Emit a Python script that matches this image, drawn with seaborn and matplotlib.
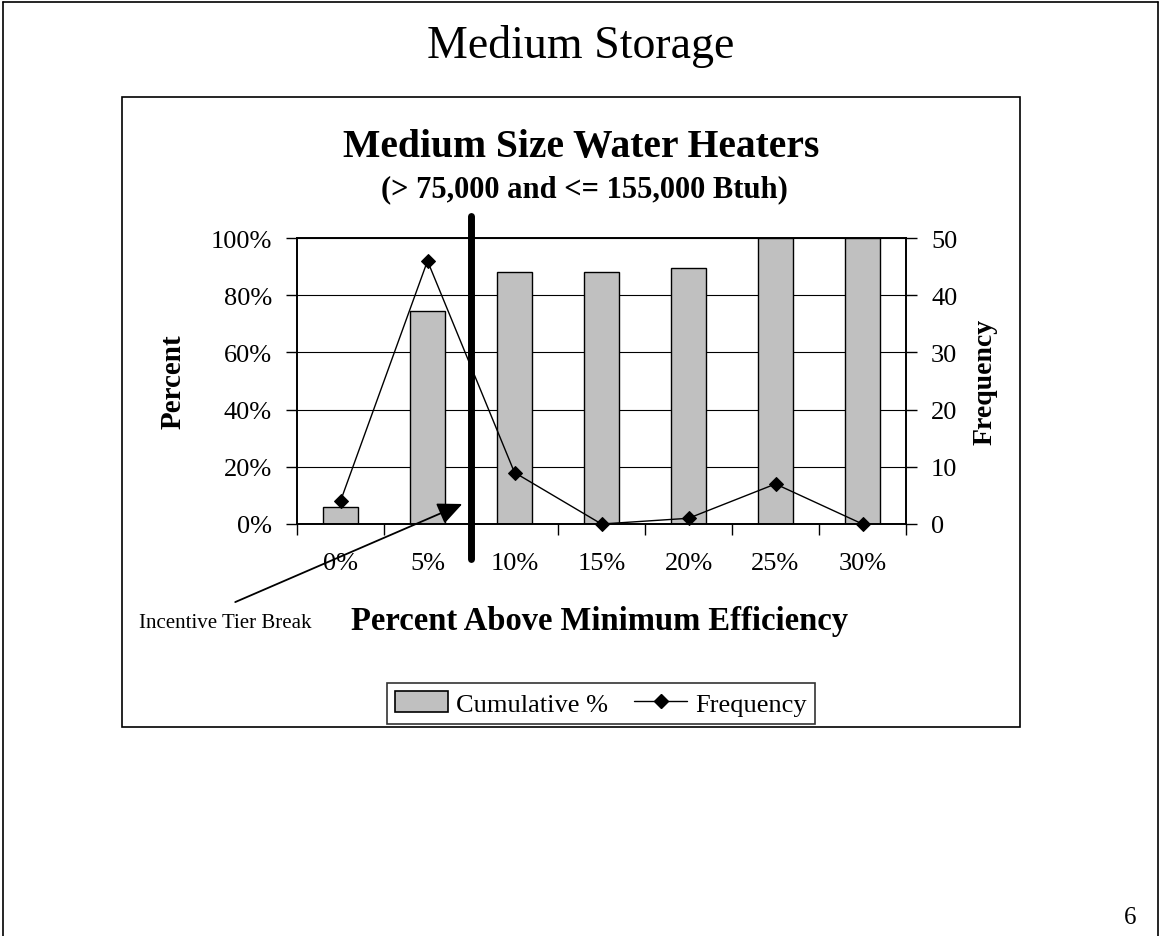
import matplotlib
matplotlib.use("Agg")
import matplotlib.pyplot as plt
from matplotlib.patches import Patch
from matplotlib.lines import Line2D
import seaborn as sns
import pandas as pd

# Efficiency bins and measured counts
categories = ["0%", "5%", "10%", "15%", "20%", "25%", "30%"]
frequency = [4, 46, 9, 0, 1, 7, 0]
cumulative_pct = [6.0, 74.6, 88.1, 88.1, 89.6, 100.0, 100.0]
pct_ticks = [0, 20, 40, 60, 80, 100]
freq_ticks = [0, 10, 20, 30, 40, 50]
tier_break = 1.5  # boundary between the 5% and 10% bins

df = pd.DataFrame({"bin": categories, "cum": cumulative_pct, "freq": frequency})

sns.set_theme(style="white")
plt.rcParams["font.family"] = ["Liberation Serif", "DejaVu Serif"]
plt.rcParams["axes.edgecolor"] = "black"
plt.rcParams["axes.labelcolor"] = "black"
plt.rcParams["xtick.color"] = "black"
plt.rcParams["ytick.color"] = "black"
plt.rcParams["text.color"] = "black"

W, H = 1162, 937
fig = plt.figure(figsize=(W / 100, H / 100), dpi=100)
fig.patch.set_facecolor("white")

# slide frame and chart frame
fig.add_artist(Line2D([3 / W, 3 / W], [0, 1 - 3 / H], color="black", lw=1.2))
fig.add_artist(Line2D([3 / W, 1158 / W], [1 - 3 / H, 1 - 3 / H], color="black", lw=1.2))
fig.add_artist(Line2D([1158 / W, 1158 / W], [0, 1 - 3 / H], color="black", lw=1.2))
fig.add_artist(plt.Rectangle((122 / W, 1 - 728 / H), (1020 - 122) / W, (728 - 98) / H,
                             fill=False, edgecolor="black", lw=1.2, transform=fig.transFigure))

left, right, top, bottom = 297, 906, 239, 525
ax = fig.add_axes([left / W, 1 - bottom / H, (right - left) / W, (bottom - top) / H])

sns.barplot(data=df, x="bin", y="cum", ax=ax, color="#C0C0C0", saturation=1,
            edgecolor="black", linewidth=1.0, width=0.4)
ax.set_ylim(0, 100)
ax.set_yticks(pct_ticks)
ax.set_yticklabels([f"{t}%" for t in pct_ticks])
ax.set_axisbelow(True)
ax.yaxis.grid(True, color="black", linewidth=0.8)
ax.xaxis.grid(False)

ax2 = ax.twinx()
sns.pointplot(data=df, x="bin", y="freq", ax=ax2, color="black", markers="D",
              errorbar=None, markersize=7, linewidth=1.0)
for ln in ax2.lines:
    ln.set_clip_on(False)
ax2.set_ylim(0, 50)
ax2.set_yticks(freq_ticks)
ax2.grid(False)

ax.set_xlim(-0.5, len(categories) - 0.5)
ax.set_xticks(range(len(categories)))
ax.set_xticklabels(categories)
ax.set_xticks([i - 0.5 for i in range(len(categories) + 1)], minor=True)

for a in (ax, ax2):
    for s in a.spines.values():
        s.set_color("black")
        s.set_linewidth(1.2)

ax.tick_params(axis="x", which="major", length=0, pad=20, labelsize=19)
ax.tick_params(axis="x", which="minor", length=8, width=1.0, direction="out", bottom=True)
ax.tick_params(axis="y", which="major", length=8, width=1.0, direction="out", left=True,
               pad=10, labelsize=19)
ax2.tick_params(axis="y", which="major", length=8, width=1.0, direction="out", right=True,
                pad=10, labelsize=19)
ax2.tick_params(axis="x", which="both", length=0)

ax.set_xlabel("Percent Above Minimum Efficiency", fontsize=23.5, fontweight="bold")
ax.xaxis.set_label_coords((600 - left) / (right - left), -(622 - bottom) / (bottom - top))
ax.xaxis.label.set_verticalalignment("center")

ax.set_ylabel("Percent", fontsize=21, fontweight="bold")
ax.yaxis.set_label_coords((173 - left) / (right - left), 0.5)
ax.yaxis.label.set_verticalalignment("center")

ax2.set_ylabel("Frequency", fontsize=20, fontweight="bold", rotation=90)
ax2.yaxis.set_label_coords((985 - left) / (right - left), 0.5)
ax2.yaxis.label.set_verticalalignment("center")

# incentive tier break marker
ax2.plot([tier_break, tier_break], [-0.122, 1.077], transform=ax2.get_xaxis_transform(),
         color="black", lw=5, solid_capstyle="round", clip_on=False, zorder=6)

ax.annotate("", xy=(1.40, 7.0), xytext=(-1.21, -27.3), xycoords="data", textcoords="data",
            annotation_clip=False,
            arrowprops=dict(arrowstyle="-|>,head_length=1.0,head_width=0.45", mutation_scale=15,
                            color="black", lw=1.3, shrinkA=0, shrinkB=0))
fig.text(225 / W, 1 - 623 / H, "Incentive Tier Break", fontsize=15, ha="center", va="center")

fig.text(581 / W, 1 - 47 / H, "Medium Storage", fontsize=33, ha="center", va="center")
fig.text(581 / W, 1 - 147 / H, "Medium Size Water Heaters", fontsize=28.5, fontweight="bold",
         ha="center", va="center")
fig.text(584 / W, 1 - 190 / H, "(> 75,000 and <= 155,000 Btuh)", fontsize=22,
         fontweight="bold", ha="center", va="center")
fig.text(1130 / W, 1 - 918 / H, "6", fontsize=18, ha="center", va="center")

handles = [Patch(facecolor="#C0C0C0", edgecolor="black", linewidth=1.2),
           Line2D([], [], color="black", marker="D", markersize=7, linewidth=1.0)]
leg = fig.legend(handles, ["Cumulative %", "Frequency"], loc="center",
                 bbox_to_anchor=(601 / W, 1 - 704.5 / H), ncol=2, fontsize=19,
                 frameon=True, fancybox=False, shadow=False, edgecolor="black",
                 handlelength=2.0, handleheight=0.8, handletextpad=0.3,
                 columnspacing=1.0, borderpad=0.3, borderaxespad=0)
leg.get_frame().set_linewidth(1.2)

fig.savefig("out.png", dpi=100, facecolor="white")
